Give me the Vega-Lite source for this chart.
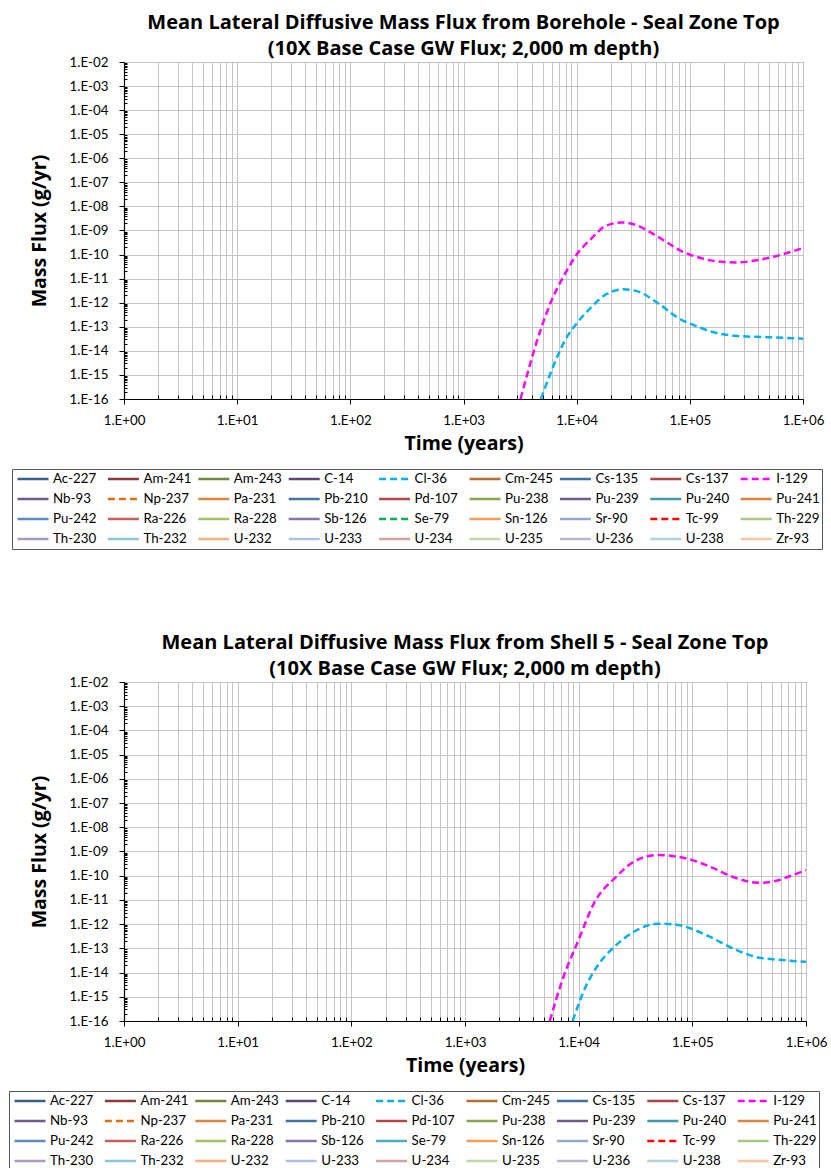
{
  "$schema": "https://vega.github.io/schema/vega-lite/v6.json",
  "background": "white",
  "padding": {"left": 8, "top": 12, "right": 0, "bottom": 5},
  "spacing": 82,
  "config": {
    "font": "Lato",
    "view": {"stroke": "#404040", "strokeWidth": 1},
    "title": {"font": "Open Sans", "fontSize": 20, "fontWeight": "bold", "color": "#000", "lineHeight": 26, "anchor": "middle", "frame": "group", "offset": -4},
    "axis": {"labelFont": "Lato", "titleFont": "Open Sans", "labelColor": "#000", "titleColor": "#000", "labelFontSize": 13.3, "titleFontSize": 19.5, "titleFontWeight": "bold", "domainColor": "#000", "domainWidth": 1.2, "tickColor": "#000", "gridColor": "#c4c4c4", "gridWidth": 1, "labelOverlap": false, "labelFlush": false},
    "legend": {"labelFont": "Lato", "labelFontSize": 13.3, "labelColor": "#000", "symbolType": "stroke", "symbolSize": 961, "symbolStrokeWidth": 2.5, "symbolOffset": 2, "labelOffset": 3, "columns": 9, "direction": "horizontal", "gridAlign": "all", "columnPadding": 3.4, "rowPadding": 4, "clipHeight": 16, "padding": 2, "strokeColor": "#555", "fillColor": "white", "symbolLimit": 50, "labelLimit": 120}
  },
  "datasets": {
    "borehole": [
      {"nuclide": "I-129", "t": 3190, "flux": 1.0e-16},
      {"nuclide": "I-129", "t": 4900, "flux": 1.0e-13},
      {"nuclide": "I-129", "t": 6010, "flux": 1.26e-12},
      {"nuclide": "I-129", "t": 7890, "flux": 1.6e-11},
      {"nuclide": "I-129", "t": 10000, "flux": 1.0e-10},
      {"nuclide": "I-129", "t": 13600, "flux": 4.8e-10},
      {"nuclide": "I-129", "t": 17800, "flux": 1.5e-9},
      {"nuclide": "I-129", "t": 25000, "flux": 2.15e-9},
      {"nuclide": "I-129", "t": 32800, "flux": 1.75e-9},
      {"nuclide": "I-129", "t": 46100, "flux": 7.8e-10},
      {"nuclide": "I-129", "t": 64600, "flux": 2.95e-10},
      {"nuclide": "I-129", "t": 85100, "flux": 1.35e-10},
      {"nuclide": "I-129", "t": 100000, "flux": 1.0e-10},
      {"nuclide": "I-129", "t": 156700, "flux": 5.6e-11},
      {"nuclide": "I-129", "t": 251000, "flux": 4.7e-11},
      {"nuclide": "I-129", "t": 407000, "flux": 6.0e-11},
      {"nuclide": "I-129", "t": 652000, "flux": 1.0e-10},
      {"nuclide": "I-129", "t": 1000000, "flux": 1.9e-10},
      {"nuclide": "Cl-36", "t": 4830, "flux": 1.0e-16},
      {"nuclide": "Cl-36", "t": 6010, "flux": 1.55e-15},
      {"nuclide": "Cl-36", "t": 7890, "flux": 2.75e-14},
      {"nuclide": "Cl-36", "t": 10000, "flux": 1.38e-13},
      {"nuclide": "Cl-36", "t": 13600, "flux": 6.8e-13},
      {"nuclide": "Cl-36", "t": 17800, "flux": 2.1e-12},
      {"nuclide": "Cl-36", "t": 25800, "flux": 3.6e-12},
      {"nuclide": "Cl-36", "t": 35100, "flux": 2.9e-12},
      {"nuclide": "Cl-36", "t": 52700, "flux": 9.3e-13},
      {"nuclide": "Cl-36", "t": 85100, "flux": 1.9e-13},
      {"nuclide": "Cl-36", "t": 100000, "flux": 1.38e-13},
      {"nuclide": "Cl-36", "t": 156700, "flux": 6.2e-14},
      {"nuclide": "Cl-36", "t": 251000, "flux": 4.2e-14},
      {"nuclide": "Cl-36", "t": 490000, "flux": 3.7e-14},
      {"nuclide": "Cl-36", "t": 1000000, "flux": 3.2e-14}
    ],
    "shell": [
      {"nuclide": "I-129", "t": 5570, "flux": 1.0e-16},
      {"nuclide": "I-129", "t": 7140, "flux": 4.5e-15},
      {"nuclide": "I-129", "t": 10000, "flux": 2.3e-13},
      {"nuclide": "I-129", "t": 14000, "flux": 9.1e-12},
      {"nuclide": "I-129", "t": 21000, "flux": 8.3e-11},
      {"nuclide": "I-129", "t": 31400, "flux": 4.1e-10},
      {"nuclide": "I-129", "t": 50400, "flux": 7.2e-10},
      {"nuclide": "I-129", "t": 75300, "flux": 6.0e-10},
      {"nuclide": "I-129", "t": 100000, "flux": 4.4e-10},
      {"nuclide": "I-129", "t": 148000, "flux": 2.2e-10},
      {"nuclide": "I-129", "t": 237000, "flux": 8.3e-11},
      {"nuclide": "I-129", "t": 379000, "flux": 5.1e-11},
      {"nuclide": "I-129", "t": 531000, "flux": 6.0e-11},
      {"nuclide": "I-129", "t": 741000, "flux": 1.0e-10},
      {"nuclide": "I-129", "t": 1000000, "flux": 1.7e-10},
      {"nuclide": "Cl-36", "t": 8850, "flux": 1.0e-16},
      {"nuclide": "Cl-36", "t": 11430, "flux": 2.4e-15},
      {"nuclide": "Cl-36", "t": 14960, "flux": 2.2e-14},
      {"nuclide": "Cl-36", "t": 21000, "flux": 1.26e-13},
      {"nuclide": "Cl-36", "t": 31400, "flux": 5.2e-13},
      {"nuclide": "Cl-36", "t": 50400, "flux": 1.05e-12},
      {"nuclide": "Cl-36", "t": 75300, "flux": 9.3e-13},
      {"nuclide": "Cl-36", "t": 100000, "flux": 6.2e-13},
      {"nuclide": "Cl-36", "t": 148000, "flux": 2.75e-13},
      {"nuclide": "Cl-36", "t": 237000, "flux": 9.1e-14},
      {"nuclide": "Cl-36", "t": 379000, "flux": 4.2e-14},
      {"nuclide": "Cl-36", "t": 531000, "flux": 3.5e-14},
      {"nuclide": "Cl-36", "t": 1000000, "flux": 2.8e-14}
    ]
  },
  "vconcat": [
    {
      "width": 679,
      "height": 337,
      "title": {"text": ["Mean Lateral Diffusive Mass Flux from Borehole - Seal Zone Top", "(10X Base Case GW Flux; 2,000 m depth)"]},
      "data": {"name": "borehole"},
      "mark": {"type": "line", "strokeWidth": 2.5, "interpolate": "monotone", "clip": true},
      "encoding": {
        "x": {
          "field": "t", "type": "quantitative",
          "scale": {"type": "log", "domain": [1, 1000000], "nice": false},
          "axis": {
            "title": "Time (years)",
            "values": [1,2,3,4,5,6,7,8,9,10,20,30,40,50,60,70,80,90,100,200,300,400,500,600,700,800,900,1000,2000,3000,4000,5000,6000,7000,8000,9000,10000,20000,30000,40000,50000,60000,70000,80000,90000,100000,200000,300000,400000,500000,600000,700000,800000,900000,1000000],
            "labelExpr": "abs(log(datum.value)/LN10 - round(log(datum.value)/LN10)) < 1e-6 ? '1.E' + (round(log(datum.value)/LN10) < 0 ? '-' : '+') + (abs(round(log(datum.value)/LN10)) < 10 ? '0' : '') + abs(round(log(datum.value)/LN10)) : ''",
            "tickSize": {"condition": {"test": "abs(log(datum.value)/LN10 - round(log(datum.value)/LN10)) < 1e-6", "value": 5}, "value": -4},
            "labelPadding": 9,
            "titlePadding": 8
          }
        },
        "y": {
          "field": "flux", "type": "quantitative",
          "scale": {"type": "log", "domain": [1e-16, 0.01], "nice": false},
          "axis": {
            "title": "Mass Flux (g/yr)",
            "values": [1e-16,2e-16,3e-16,4e-16,5e-16,6e-16,7e-16,8e-16,9e-16,1e-15,2e-15,3e-15,4e-15,5e-15,6e-15,7e-15,8e-15,9e-15,1e-14,2e-14,3e-14,4e-14,5e-14,6e-14,7e-14,8e-14,9e-14,1e-13,2e-13,3e-13,4e-13,5e-13,6e-13,7e-13,8e-13,9e-13,1e-12,2e-12,3e-12,4e-12,5e-12,6e-12,7e-12,8e-12,9e-12,1e-11,2e-11,3e-11,4e-11,5e-11,6e-11,7e-11,8e-11,9e-11,1e-10,2e-10,3e-10,4e-10,5e-10,6e-10,7e-10,8e-10,9e-10,1e-9,2e-9,3e-9,4e-9,5e-9,6e-9,7e-9,8e-9,9e-9,1e-8,2e-8,3e-8,4e-8,5e-8,6e-8,7e-8,8e-8,9e-8,1e-7,2e-7,3e-7,4e-7,5e-7,6e-7,7e-7,8e-7,9e-7,1e-6,2e-6,3e-6,4e-6,5e-6,6e-6,7e-6,8e-6,9e-6,1e-5,2e-5,3e-5,4e-5,5e-5,6e-5,7e-5,8e-5,9e-5,1e-4,2e-4,3e-4,4e-4,5e-4,6e-4,7e-4,8e-4,9e-4,1e-3,2e-3,3e-3,4e-3,5e-3,6e-3,7e-3,8e-3,9e-3,1e-2],
            "labelExpr": "abs(log(datum.value)/LN10 - round(log(datum.value)/LN10)) < 1e-6 ? '1.E' + (round(log(datum.value)/LN10) < 0 ? '-' : '+') + (abs(round(log(datum.value)/LN10)) < 10 ? '0' : '') + abs(round(log(datum.value)/LN10)) : ''",
            "tickSize": {"condition": {"test": "abs(log(datum.value)/LN10 - round(log(datum.value)/LN10)) < 1e-6", "value": 5}, "value": -3},
            "gridOpacity": {"condition": {"test": "abs(log(datum.value)/LN10 - round(log(datum.value)/LN10)) < 1e-6", "value": 1}, "value": 0},
            "labelPadding": 11,
            "titlePadding": 20
          }
        },
        "color": {
          "field": "nuclide", "type": "nominal",
          "scale": {
            "domain": ["Ac-227","Am-241","Am-243","C-14","Cl-36","Cm-245","Cs-135","Cs-137","I-129","Nb-93","Np-237","Pa-231","Pb-210","Pd-107","Pu-238","Pu-239","Pu-240","Pu-241","Pu-242","Ra-226","Ra-228","Sb-126","Se-79","Sn-126","Sr-90","Tc-99","Th-229","Th-230","Th-232","U-232","U-233","U-234","U-235","U-236","U-238","Zr-93"],
            "range": ["#385D8A","#8C3836","#71893F","#5C4776","#00B0F0","#B66D31","#426EA6","#AA4643","#FF00FF","#71588F","#E46C0A","#DB843D","#4572A7","#B84744","#89A54E","#71588F","#4198AF","#DB843D","#5C8AC9","#CD5C5A","#A2C25F","#8C72AC","#00B050","#F89B52","#92A8CD","#FF0000","#AAC683","#A99BBD","#8DC6D9","#FAAF7F","#B0C0DE","#D6A1A0","#C5D6A6","#BCB3CC","#ADD4DF","#F8C6A5"]
          },
          "legend": {"title": null, "orient": "none", "legendX": -112, "legendY": 407}
        },
        "strokeDash": {
          "field": "nuclide", "type": "nominal",
          "scale": {
            "domain": ["Ac-227","Am-241","Am-243","C-14","Cl-36","Cm-245","Cs-135","Cs-137","I-129","Nb-93","Np-237","Pa-231","Pb-210","Pd-107","Pu-238","Pu-239","Pu-240","Pu-241","Pu-242","Ra-226","Ra-228","Sb-126","Se-79","Sn-126","Sr-90","Tc-99","Th-229","Th-230","Th-232","U-232","U-233","U-234","U-235","U-236","U-238","Zr-93"],
            "range": [[1,0],[1,0],[1,0],[1,0],[7,4],[1,0],[1,0],[1,0],[7,4],[1,0],[7,4],[1,0],[1,0],[1,0],[1,0],[1,0],[1,0],[1,0],[1,0],[1,0],[1,0],[1,0],[7,4],[1,0],[1,0],[7,4],[1,0],[1,0],[1,0],[1,0],[1,0],[1,0],[1,0],[1,0],[1,0],[1,0]]
          },
          "legend": {"title": null, "orient": "none", "legendX": -112, "legendY": 407}
        }
      }
    },
    {
      "width": 682,
      "height": 339,
      "title": {"text": ["Mean Lateral Diffusive Mass Flux from Shell 5 - Seal Zone Top", "(10X Base Case GW Flux; 2,000 m depth)"]},
      "data": {"name": "shell"},
      "mark": {"type": "line", "strokeWidth": 2.5, "interpolate": "monotone", "clip": true},
      "encoding": {
        "x": {
          "field": "t", "type": "quantitative",
          "scale": {"type": "log", "domain": [1, 1000000], "nice": false},
          "axis": {
            "title": "Time (years)",
            "values": [1,2,3,4,5,6,7,8,9,10,20,30,40,50,60,70,80,90,100,200,300,400,500,600,700,800,900,1000,2000,3000,4000,5000,6000,7000,8000,9000,10000,20000,30000,40000,50000,60000,70000,80000,90000,100000,200000,300000,400000,500000,600000,700000,800000,900000,1000000],
            "labelExpr": "abs(log(datum.value)/LN10 - round(log(datum.value)/LN10)) < 1e-6 ? '1.E' + (round(log(datum.value)/LN10) < 0 ? '-' : '+') + (abs(round(log(datum.value)/LN10)) < 10 ? '0' : '') + abs(round(log(datum.value)/LN10)) : ''",
            "tickSize": {"condition": {"test": "abs(log(datum.value)/LN10 - round(log(datum.value)/LN10)) < 1e-6", "value": 5}, "value": -4},
            "labelPadding": 9,
            "titlePadding": 8
          }
        },
        "y": {
          "field": "flux", "type": "quantitative",
          "scale": {"type": "log", "domain": [1e-16, 0.01], "nice": false},
          "axis": {
            "title": "Mass Flux (g/yr)",
            "values": [1e-16,2e-16,3e-16,4e-16,5e-16,6e-16,7e-16,8e-16,9e-16,1e-15,2e-15,3e-15,4e-15,5e-15,6e-15,7e-15,8e-15,9e-15,1e-14,2e-14,3e-14,4e-14,5e-14,6e-14,7e-14,8e-14,9e-14,1e-13,2e-13,3e-13,4e-13,5e-13,6e-13,7e-13,8e-13,9e-13,1e-12,2e-12,3e-12,4e-12,5e-12,6e-12,7e-12,8e-12,9e-12,1e-11,2e-11,3e-11,4e-11,5e-11,6e-11,7e-11,8e-11,9e-11,1e-10,2e-10,3e-10,4e-10,5e-10,6e-10,7e-10,8e-10,9e-10,1e-9,2e-9,3e-9,4e-9,5e-9,6e-9,7e-9,8e-9,9e-9,1e-8,2e-8,3e-8,4e-8,5e-8,6e-8,7e-8,8e-8,9e-8,1e-7,2e-7,3e-7,4e-7,5e-7,6e-7,7e-7,8e-7,9e-7,1e-6,2e-6,3e-6,4e-6,5e-6,6e-6,7e-6,8e-6,9e-6,1e-5,2e-5,3e-5,4e-5,5e-5,6e-5,7e-5,8e-5,9e-5,1e-4,2e-4,3e-4,4e-4,5e-4,6e-4,7e-4,8e-4,9e-4,1e-3,2e-3,3e-3,4e-3,5e-3,6e-3,7e-3,8e-3,9e-3,1e-2],
            "labelExpr": "abs(log(datum.value)/LN10 - round(log(datum.value)/LN10)) < 1e-6 ? '1.E' + (round(log(datum.value)/LN10) < 0 ? '-' : '+') + (abs(round(log(datum.value)/LN10)) < 10 ? '0' : '') + abs(round(log(datum.value)/LN10)) : ''",
            "tickSize": {"condition": {"test": "abs(log(datum.value)/LN10 - round(log(datum.value)/LN10)) < 1e-6", "value": 5}, "value": -3},
            "gridOpacity": {"condition": {"test": "abs(log(datum.value)/LN10 - round(log(datum.value)/LN10)) < 1e-6", "value": 1}, "value": 0},
            "labelPadding": 11,
            "titlePadding": 20
          }
        },
        "color": {
          "field": "nuclide", "type": "nominal",
          "scale": {
            "domain": ["Ac-227","Am-241","Am-243","C-14","Cl-36","Cm-245","Cs-135","Cs-137","I-129","Nb-93","Np-237","Pa-231","Pb-210","Pd-107","Pu-238","Pu-239","Pu-240","Pu-241","Pu-242","Ra-226","Ra-228","Sb-126","Se-79","Sn-126","Sr-90","Tc-99","Th-229","Th-230","Th-232","U-232","U-233","U-234","U-235","U-236","U-238","Zr-93"],
            "range": ["#385D8A","#8C3836","#71893F","#5C4776","#00B0F0","#B66D31","#426EA6","#AA4643","#FF00FF","#71588F","#E46C0A","#DB843D","#4572A7","#B84744","#89A54E","#71588F","#4198AF","#DB843D","#5C8AC9","#CD5C5A","#A2C25F","#8C72AC","#4BACC6","#F89B52","#92A8CD","#FF0000","#AAC683","#A99BBD","#8DC6D9","#FAAF7F","#B0C0DE","#D6A1A0","#C5D6A6","#BCB3CC","#ADD4DF","#F8C6A5"]
          },
          "legend": {"title": null, "orient": "none", "legendX": -115, "legendY": 409}
        },
        "strokeDash": {
          "field": "nuclide", "type": "nominal",
          "scale": {
            "domain": ["Ac-227","Am-241","Am-243","C-14","Cl-36","Cm-245","Cs-135","Cs-137","I-129","Nb-93","Np-237","Pa-231","Pb-210","Pd-107","Pu-238","Pu-239","Pu-240","Pu-241","Pu-242","Ra-226","Ra-228","Sb-126","Se-79","Sn-126","Sr-90","Tc-99","Th-229","Th-230","Th-232","U-232","U-233","U-234","U-235","U-236","U-238","Zr-93"],
            "range": [[1,0],[1,0],[1,0],[1,0],[7,4],[1,0],[1,0],[1,0],[7,4],[1,0],[7,4],[1,0],[1,0],[1,0],[1,0],[1,0],[1,0],[1,0],[1,0],[1,0],[1,0],[1,0],[1,0],[1,0],[1,0],[7,4],[1,0],[1,0],[1,0],[1,0],[1,0],[1,0],[1,0],[1,0],[1,0],[1,0]]
          },
          "legend": {"title": null, "orient": "none", "legendX": -115, "legendY": 409}
        }
      }
    }
  ],
  "resolve": {"scale": {"color": "independent", "strokeDash": "independent"}, "legend": {"color": "independent", "strokeDash": "independent"}}
}
